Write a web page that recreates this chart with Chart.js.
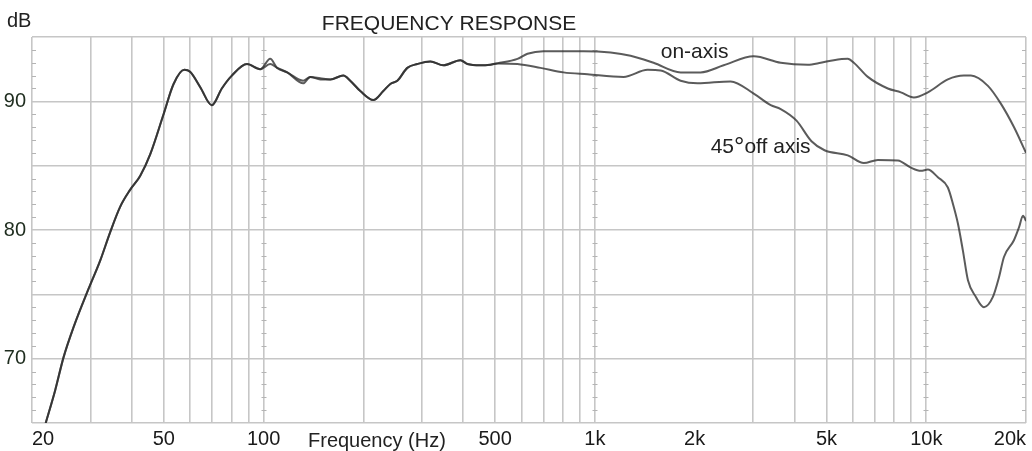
<!DOCTYPE html>
<html>
<head>
<meta charset="utf-8">
<script src="https://cdn.jsdelivr.net/npm/chart.js@4.4.1/dist/chart.umd.min.js"></script>
<style>
  html, body { margin: 0; padding: 0; background: #fff; }
</style>
</head>
<body>
<canvas id="myChart" width="1032" height="451"></canvas>
<script>
// frequency (Hz) / level (dB)
// below ~100 Hz both curves sit on top of each other
const freqLow = [22.0, 23.5, 24.9, 26.7, 29.6, 32.1, 34.4, 36.9, 39.5, 42.4, 45.5, 49.9, 53.5, 57.6, 60.0, 64.4, 69.8, 74.8, 80.2, 89.1, 97.7]
const dbLow = [65.0, 67.55, 70.1, 72.45, 75.4, 77.6, 79.8, 81.8, 83.1, 84.2, 85.9, 89.0, 91.35, 92.45, 92.3, 91.1, 89.7, 91.0, 92.0, 92.9, 92.5]

const freqMid = [104.7, 109.9, 117.8, 131.7, 138.3, 148.3, 159.0, 174.0, 182.6, 195.8, 214.4, 229.8, 241.3, 253.3, 271.5, 291.1, 318.7, 348.7, 392.6, 412.2, 451.2, 483.6, 507.8]
const dbMidOn = [93.3, 92.6, 92.25, 91.6, 91.9, 91.7, 91.7, 92.0, 91.6, 90.8, 90.1, 90.8, 91.35, 91.6, 92.6, 92.9, 93.1, 92.8, 93.2, 92.9, 92.8, 92.85, 92.95]
const dbMidOff = [92.9, 92.6, 92.25, 91.4, 91.9, 91.8, 91.7, 92.0, 91.6, 90.8, 90.1, 90.8, 91.35, 91.6, 92.6, 92.9, 93.1, 92.8, 93.2, 92.9, 92.8, 92.85, 92.95]

const freqHighOn = [583.7, 625.8, 699.4, 923.8, 1115, 1281, 1503, 1814, 2084, 2446, 3015, 3637, 4389, 4804, 5258, 5796, 6044, 6663, 7656, 8382, 9174, 10110, 11620, 12990, 13640, 15350, 16810, 18390, 20000]
const dbHighOn = [93.3, 93.7, 93.9, 93.9, 93.8, 93.55, 93.0, 92.25, 92.25, 92.8, 93.5, 93.0, 92.85, 93.0, 93.2, 93.3, 93.0, 91.9, 91.0, 90.7, 90.3, 90.7, 91.7, 92.0, 92.0, 91.2, 89.8, 88.0, 86.0]

const freqHighOff = [583.7, 684.9, 803.5, 949.7, 1220, 1442, 1579, 1814, 2041, 2567, 3015, 3393, 3637, 4059, 4504, 4931, 5796, 6480, 7142, 8211, 8985, 9630, 10110, 10840, 11620, 12030, 12460, 12900, 13360, 14120, 14930, 15890, 16570, 17160, 18390, 19050, 19590, 20000]
const dbHighOff = [92.9, 92.6, 92.25, 92.1, 91.9, 92.45, 92.4, 91.6, 91.4, 91.55, 90.6, 89.7, 89.4, 88.5, 86.9, 86.2, 85.8, 85.2, 85.45, 85.4, 84.85, 84.6, 84.7, 84.1, 83.3, 82.05, 80.5, 78.4, 76.1, 74.8, 74.0, 74.8, 76.3, 77.9, 79.2, 80.2, 81.1, 80.7]

// axes
const gridFreqs = [20, 30, 40, 50, 60, 70, 80, 90, 100, 200, 300, 400, 500, 600, 700, 800, 900, 1000, 2000, 3000, 4000, 5000, 6000, 7000, 8000, 9000, 10000, 20000]
const noGridAt = [2000]   // the original grid has no 2k line
const xTickValues = [20, 50, 100, 500, 1000, 2000, 5000, 10000, 20000]
const xTickLabels = ['20', '50', '100', '500', '1k', '2k', '5k', '10k', '20k']
const yTickLabels = [70, 80, 90]
const minorTickFreqs = [20, 100, 1000, 10000, 20000]

const toPoints = (fs, ds) => fs.map((f, i) => ({ x: f, y: ds[i] }))

const onAxis = toPoints(freqLow.concat(freqMid, freqHighOn), dbLow.concat(dbMidOn, dbHighOn))
const offAxis = toPoints(freqLow.concat(freqMid, freqHighOff), dbLow.concat(dbMidOff, dbHighOff))

const FONT = '"Liberation Sans", Arial, sans-serif'
const gridColor = '#c6c6c6'

const textPlugin = {
  id: 'textPlugin',
  beforeDatasetsDraw(chart) {
    // little 1 dB marks on some of the vertical lines
    const ctx = chart.ctx, xs = chart.scales.x, ys = chart.scales.y
    ctx.save()
    ctx.strokeStyle = '#b4b4b4'
    ctx.lineWidth = 1
    minorTickFreqs.forEach(f => {
      const px = Math.round(xs.getPixelForValue(f))
      for (let d = 66; d < 95; d++) {
        if (d % 5 === 0) continue
        const py = Math.round(ys.getPixelForValue(d)) + 0.5
        ctx.beginPath()
        if (f === 20) { ctx.moveTo(px, py); ctx.lineTo(px + 4, py) }
        else if (f === 20000) { ctx.moveTo(px - 4, py); ctx.lineTo(px, py) }
        else { ctx.moveTo(px - 2.5, py); ctx.lineTo(px + 2.5, py) }
        ctx.stroke()
      }
    })
    ctx.restore()
  },
  afterDraw(chart) {
    const ctx = chart.ctx, xs = chart.scales.x
    ctx.save()
    ctx.fillStyle = '#222'
    ctx.textBaseline = 'alphabetic'
    ctx.font = '21px ' + FONT
    ctx.textAlign = 'center'
    ctx.fillText('FREQUENCY RESPONSE', 449, 30)
    ctx.textAlign = 'left'
    ctx.font = '20px ' + FONT
    ctx.fillText('dB', 7, 27)
    ctx.fillText('Frequency (Hz)', 308, 447)

    ctx.font = '21px ' + FONT
    ctx.fillText('on-axis', xs.getPixelForValue(1580), 58)
    const x45 = xs.getPixelForValue(2235)
    ctx.fillText('45', x45, 153)
    const w45 = ctx.measureText('45').width
    ctx.font = '26px ' + FONT
    ctx.fillText('°', x45 + w45, 155)
    const wDeg = ctx.measureText('°').width
    ctx.font = '21px ' + FONT
    ctx.fillText('off axis', x45 + w45 + wDeg, 153)
    ctx.restore()
  }
}

const data = {
  datasets: [
    {
      label: 'on-axis',
      data: onAxis,
      borderColor: 'rgba(45,45,45,0.78)',
      borderWidth: 2,
      pointRadius: 0,
      cubicInterpolationMode: 'monotone',
      fill: false
    },
    {
      label: '45° off axis',
      data: offAxis,
      borderColor: 'rgba(45,45,45,0.78)',
      borderWidth: 2,
      pointRadius: 0,
      cubicInterpolationMode: 'monotone',
      fill: false
    }
  ]
}

const config = {
  type: 'line',
  data: data,
  options: {
    responsive: false,
    animation: false,
    devicePixelRatio: 1,
    layout: { padding: { top: 37, right: 6, left: 0, bottom: 0 } },
    plugins: {
      legend: { display: false },
      tooltip: { enabled: false }
    },
    scales: {
      x: {
        type: 'logarithmic',
        min: 20,
        max: 20000,
        afterBuildTicks: s => { s.ticks = gridFreqs.map(v => ({ value: v })) },
        afterFit: s => { s.height = 28 },
        grid: {
          color: c => (c.tick && noGridAt.includes(c.tick.value)) ? 'rgba(0,0,0,0)' : gridColor,
          lineWidth: 1.6,
          drawTicks: false
        },
        border: { display: false },
        ticks: {
          autoSkip: false,
          maxRotation: 0,
          align: 'inner',
          padding: 4,
          color: '#1a1a1a',
          font: { family: FONT, size: 20 },
          callback: v => {
            const i = xTickValues.indexOf(v)
            return i >= 0 ? xTickLabels[i] : ''
          }
        }
      },
      y: {
        min: 65,
        max: 95,
        afterFit: s => { s.width = 32 },
        grid: { color: gridColor, lineWidth: 1.6, drawTicks: false },
        border: { display: false },
        ticks: {
          stepSize: 5,
          padding: 6,
          color: '#1f2d1f',
          font: { family: FONT, size: 20 },
          callback: v => yTickLabels.includes(v) ? String(v) : ''
        }
      }
    }
  },
  plugins: [textPlugin]
}

const myChart = new Chart(document.getElementById('myChart'), config)
</script>
</body>
</html>
